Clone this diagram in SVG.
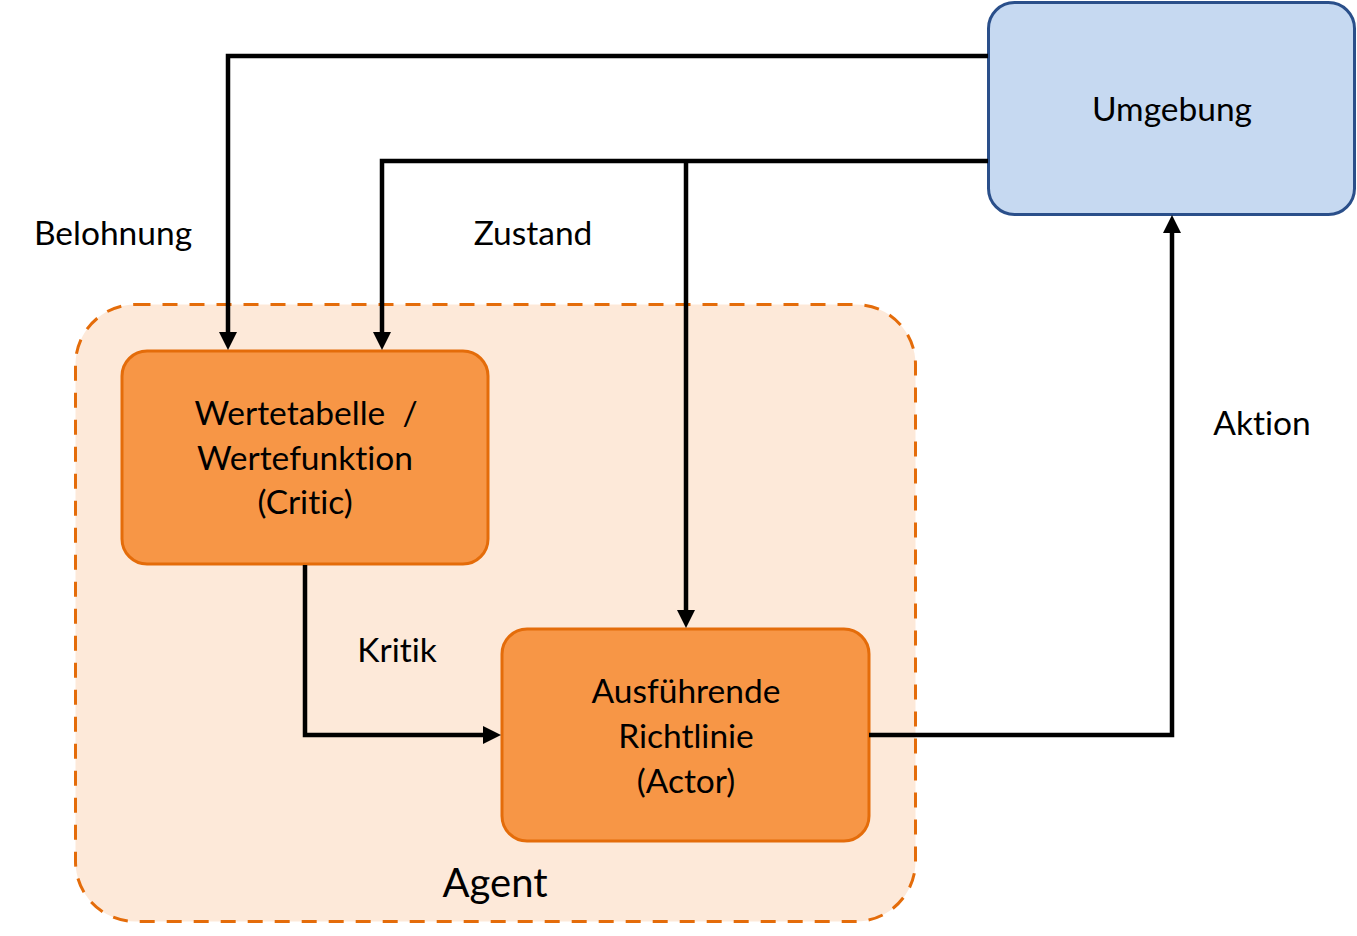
<svg xmlns="http://www.w3.org/2000/svg" width="1357" height="936" viewBox="0 0 1357 936">
<style>
text{font-family:Lato,"Liberation Sans",sans-serif;font-size:33.5px;fill:#000;font-variant-ligatures:none;font-feature-settings:"liga" 0}
.c{text-anchor:middle}
.box{fill:#F79646;stroke:#E46C0A;stroke-width:3}
.conn{fill:none;stroke:#000;stroke-width:4.5;stroke-linejoin:miter}
</style>
<defs>
<marker id="ah" markerUnits="userSpaceOnUse" markerWidth="18" markerHeight="18" refX="0" refY="9" orient="auto" viewBox="0 0 18 18">
<path d="M0,0 L18,9 L0,18 z" fill="#000"/>
</marker>
</defs>
<rect width="1357" height="936" fill="#fff"/>
<g id="agent">
<rect x="75.5" y="304.5" width="840" height="617" rx="60" ry="60" fill="#FDE9D9" stroke="#E46C0A" stroke-width="3" stroke-dasharray="15 12"/>
<text class="c" x="495" y="897" style="font-size:40px">Agent</text>
</g>
<g id="umgebung">
<rect x="988.5" y="2.5" width="366" height="212" rx="26" ry="26" fill="#C6D9F1" stroke="#2A4F8A" stroke-width="3"/>
<text class="c" x="1172" y="121">Umgebung</text>
</g>
<g id="critic">
<rect class="box" x="122" y="351" width="366" height="213" rx="25" ry="25"/>
<text class="c" x="306" y="425">Wertetabelle&#160; /</text>
<text class="c" x="305" y="470">Wertefunktion</text>
<text class="c" x="305" y="514">(Critic)</text>
</g>
<g id="actor">
<rect class="box" x="502" y="629" width="367" height="212" rx="25" ry="25"/>
<text class="c" x="686" y="703">Ausführende</text>
<text class="c" x="686" y="748">Richtlinie</text>
<text class="c" x="686" y="793">(Actor)</text>
</g>
<g id="connectors">
<path class="conn" d="M988,56 H228 V332" marker-end="url(#ah)"/>
<path class="conn" d="M988,161 H382 V332" marker-end="url(#ah)"/>
<path class="conn" d="M686,161 V610" marker-end="url(#ah)"/>
<path class="conn" d="M305,565 V735 H483" marker-end="url(#ah)"/>
<path class="conn" d="M869,735 H1172 V233" marker-end="url(#ah)"/>
</g>
<g id="labels">
<text class="c" x="113" y="245">Belohnung</text>
<text class="c" x="533" y="245">Zustand</text>
<text class="c" x="397" y="662">Kritik</text>
<text class="c" x="1262" y="435">Aktion</text>
</g>
</svg>
